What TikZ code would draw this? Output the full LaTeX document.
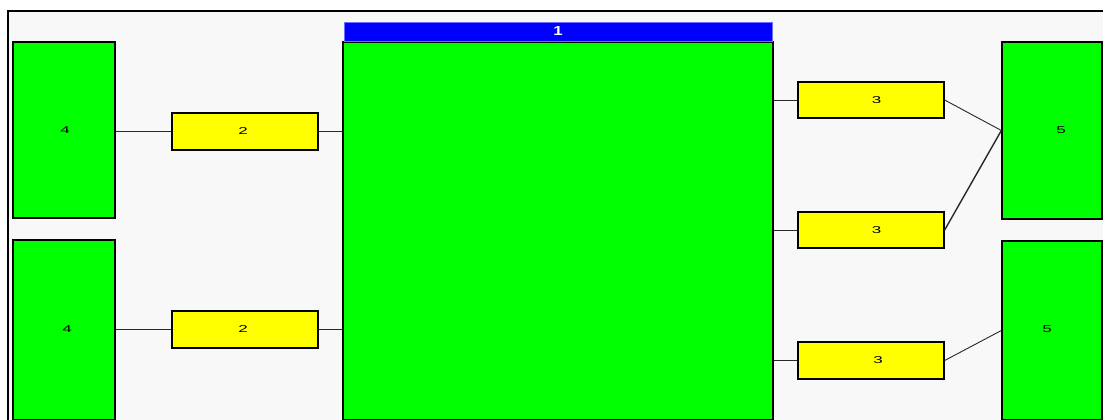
\documentclass[tikz,border=0pt]{standalone}
\usepackage{fontspec}
\usepackage{graphicx}
\setmainfont{Liberation Sans}
\definecolor{bgray}{RGB}{248,248,248}
\definecolor{pgreen}{RGB}{0,255,0}
\definecolor{pyellow}{RGB}{255,255,0}
\definecolor{pblue}{RGB}{0,0,255}
\definecolor{lblue}{RGB}{110,110,255}
\definecolor{lineg}{RGB}{40,40,40}
\newcommand{\widedigit}[1]{\scalebox{1.7}[1]{\fontsize{10}{12}\selectfont #1}}
\begin{document}
\begin{tikzpicture}[x=1pt,y=-1pt,
  box/.style={draw=black,line width=1.3pt,inner sep=0pt},
  gbox/.style={box,fill=pgreen},
  ybox/.style={box,fill=pyellow},
  lab/.style={inner sep=0pt},
  conn/.style={draw=lineg,line width=0.9pt}]
\useasboundingbox (0,0) rectangle (1103,420);
\fill[white] (0,0) rectangle (1103,420);
\fill[bgray] (8,11) rectangle (1103,420);
\draw[line width=2pt] (8,420) -- (8,11) -- (1103,11);
% left column
\node[gbox,minimum width=102pt,minimum height=176pt] (l4a) at (64,130) {};
\node[lab] (t4a) at (65,130.5) {\widedigit{4}};
\node[gbox,minimum width=102pt,minimum height=180pt] (l4b) at (64,330) {};
\node[lab] (t4b) at (67,329) {\widedigit{4}};
\node[ybox,minimum width=146pt,minimum height=37pt] (y2a) at (245,131.5) {};
\node[lab] (t2a) at (243,131.5) {\widedigit{2}};
\node[ybox,minimum width=146pt,minimum height=37pt] (y2b) at (245,329.5) {};
\node[lab] (t2b) at (243,329.5) {\widedigit{2}};
% central
\node[gbox,minimum width=430pt,minimum height=378pt] (main) at (558,231) {};
\node[fill=pblue,draw=lblue,line width=0.6pt,inner sep=0pt,minimum width=428pt,minimum height=19pt,text=white] (bar) at (558,31.5) {\scalebox{1.3}[1]{\fontsize{13}{15}\selectfont\bfseries 1}};
% right column
\node[ybox,minimum width=146pt,minimum height=36pt] (y3a) at (871,100) {};
\node[lab] (t3a) at (876.5,100.5) {\widedigit{3}};
\node[ybox,minimum width=146pt,minimum height=36pt] (y3b) at (871,230) {};
\node[lab] (t3b) at (876.5,230) {\widedigit{3}};
\node[ybox,minimum width=146pt,minimum height=37pt] (y3c) at (871,360.5) {};
\node[lab] (t3c) at (878,360.5) {\widedigit{3}};
\node[gbox,minimum width=100pt,minimum height=177pt] (r5a) at (1052,130.5) {};
\node[lab] (t5a) at (1061,130) {\widedigit{5}};
\node[gbox,minimum width=100pt,minimum height=179pt] (r5b) at (1052,330.5) {};
\node[lab] (t5b) at (1047,329) {\widedigit{5}};
% connectors
\draw[conn] (y2a.west -| l4a.east) -- (y2a.west);
\draw[conn] (y2b.west -| l4b.east) -- (y2b.west);
\draw[conn] (y2a.east) -- (y2a.east -| main.west);
\draw[conn] (y2b.east) -- (y2b.east -| main.west);
\draw[conn] (y3a.west -| main.east) -- (y3a.west);
\draw[conn] (y3b.west -| main.east) -- (y3b.west);
\draw[conn] (y3c.west -| main.east) -- (y3c.west);
\draw[conn] (y3a.east) -- (r5a.west);
\draw[conn,line width=1.4pt] (y3b.east) -- (r5a.west);
\draw[conn] (y3c.east) -- (r5b.west);
\end{tikzpicture}
\end{document}
